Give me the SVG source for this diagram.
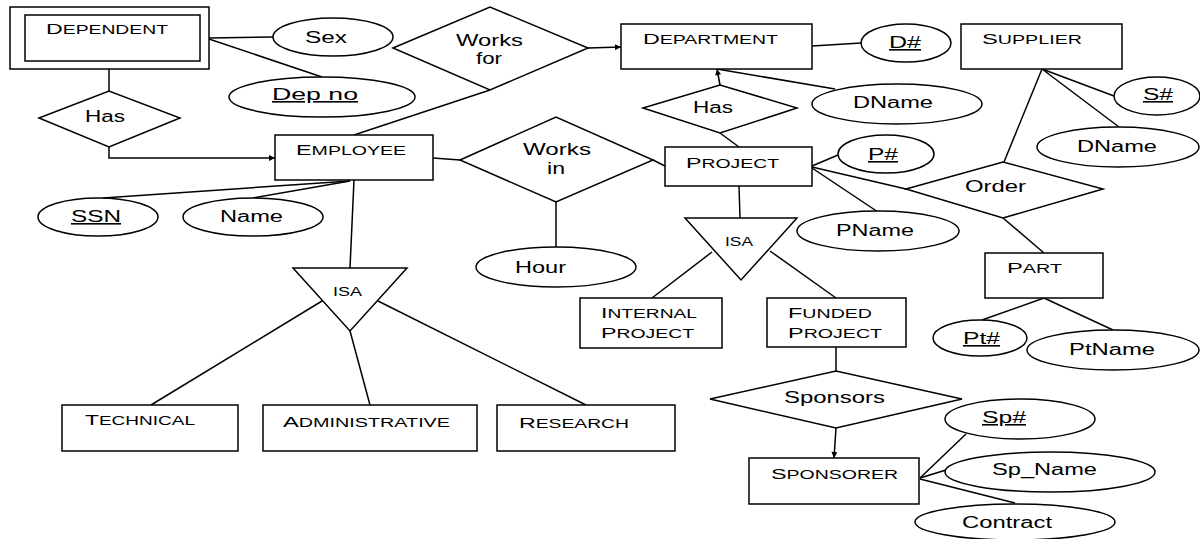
<svg xmlns="http://www.w3.org/2000/svg" width="1200" height="539" viewBox="0 0 1200 539">
  <defs>
    <marker id="arrow" viewBox="0 0 10 10" refX="10" refY="5" markerWidth="8" markerHeight="6" markerUnits="userSpaceOnUse" orient="auto">
      <path d="M0,0 L10,5 L0,10 z" fill="#000"/>
    </marker>
    <style>
      .shape { fill: #fff; stroke: #000; stroke-width: 1.5; }
      .edge { fill: none; stroke: #000; stroke-width: 1.5; }
      .arr { marker-end: url(#arrow); }
      text { font-family: "Liberation Sans", Arial, sans-serif; fill: #000; }
      .lbl { font-size: 16px; }
      .ent { font-size: 12.5px; }
      .big { font-size: 15px; }
      .isa { font-size: 13px; }
      .key { text-decoration: underline; }
    </style>
  </defs>
  <rect width="1200" height="539" fill="#fff"/>

  <!-- connectors -->
  <g id="connectors">
    <line class="edge" x1="209" y1="38" x2="273" y2="37"/>
    <line class="edge" x1="209" y1="39" x2="322" y2="77"/>
    <line class="edge" x1="109" y1="69" x2="109" y2="91"/>
    <polyline class="edge arr" points="109,147 109,158 275,158"/>
    <line class="edge" x1="354" y1="135" x2="490" y2="90"/>
    <line class="edge arr" x1="588" y1="48" x2="621" y2="47"/>
    <line class="edge" x1="812" y1="46" x2="861" y2="43"/>
    <line class="edge" x1="717" y1="69" x2="835" y2="89"/>
    <line class="edge arr" x1="720" y1="85" x2="717" y2="69"/>
    <line class="edge" x1="720" y1="133" x2="739" y2="147"/>
    <line class="edge" x1="433" y1="158" x2="460" y2="160"/>
    <line class="edge" x1="653" y1="160" x2="665" y2="166"/>
    <line class="edge" x1="556" y1="202" x2="556" y2="248"/>
    <line class="edge" x1="812" y1="166" x2="838" y2="155"/>
    <line class="edge" x1="812" y1="167" x2="906" y2="189"/>
    <line class="edge" x1="812" y1="168" x2="878" y2="212"/>
    <line class="edge" x1="739" y1="186" x2="740" y2="218"/>
    <line class="edge" x1="712" y1="252" x2="652" y2="298"/>
    <line class="edge" x1="770" y1="251" x2="836" y2="298"/>
    <line class="edge" x1="836" y1="347" x2="836" y2="371"/>
    <line class="edge arr" x1="836" y1="428" x2="834" y2="458"/>
    <line class="edge" x1="920" y1="478" x2="966" y2="434"/>
    <line class="edge" x1="920" y1="478" x2="946" y2="470"/>
    <line class="edge" x1="920" y1="479" x2="1015" y2="503"/>
    <line class="edge" x1="1042" y1="69" x2="1114" y2="96"/>
    <line class="edge" x1="1042" y1="69" x2="1119" y2="127"/>
    <line class="edge" x1="1042" y1="69" x2="1004" y2="162"/>
    <line class="edge" x1="1003" y1="218" x2="1044" y2="253"/>
    <line class="edge" x1="1044" y1="298" x2="982" y2="320"/>
    <line class="edge" x1="1044" y1="298" x2="1113" y2="330"/>
    <line class="edge" x1="350" y1="181" x2="103" y2="198"/>
    <line class="edge" x1="350" y1="181" x2="253" y2="198"/>
    <line class="edge" x1="354" y1="180" x2="350" y2="268"/>
    <line class="edge" x1="322" y1="301" x2="151" y2="405"/>
    <line class="edge" x1="350" y1="331" x2="370" y2="405"/>
    <line class="edge" x1="378" y1="301" x2="586" y2="405"/>
  </g>

  <!-- entities -->
  <g id="dependent">
    <rect class="shape" x="10" y="7" width="199" height="62"/>
    <rect class="shape" x="25" y="15" width="175" height="46"/>
    <text x="46" y="34" textLength="122" lengthAdjust="spacingAndGlyphs"><tspan class="big">D</tspan><tspan class="ent">EPENDENT</tspan></text>
  </g>
  <g id="employee">
    <rect class="shape" x="275" y="135" width="158" height="45"/>
    <text x="296" y="155" textLength="110" lengthAdjust="spacingAndGlyphs"><tspan class="big">E</tspan><tspan class="ent">MPLOYEE</tspan></text>
  </g>
  <g id="department">
    <rect class="shape" x="621" y="24" width="191" height="45"/>
    <text x="643" y="44" textLength="135" lengthAdjust="spacingAndGlyphs"><tspan class="big">D</tspan><tspan class="ent">EPARTMENT</tspan></text>
  </g>
  <g id="supplier">
    <rect class="shape" x="961" y="24" width="161" height="45"/>
    <text x="982" y="44" textLength="100" lengthAdjust="spacingAndGlyphs"><tspan class="big">S</tspan><tspan class="ent">UPPLIER</tspan></text>
  </g>
  <g id="project">
    <rect class="shape" x="665" y="147" width="147" height="39"/>
    <text x="686" y="168" textLength="93" lengthAdjust="spacingAndGlyphs"><tspan class="big">P</tspan><tspan class="ent">ROJECT</tspan></text>
  </g>
  <g id="part">
    <rect class="shape" x="985" y="253" width="118" height="45"/>
    <text x="1007" y="273" textLength="55" lengthAdjust="spacingAndGlyphs"><tspan class="big">P</tspan><tspan class="ent">ART</tspan></text>
  </g>
  <g id="internal-project">
    <rect class="shape" x="580" y="298" width="142" height="50"/>
    <text x="601" y="318" textLength="96" lengthAdjust="spacingAndGlyphs"><tspan class="big">I</tspan><tspan class="ent">NTERNAL</tspan></text>
    <text x="601" y="338" textLength="93" lengthAdjust="spacingAndGlyphs"><tspan class="big">P</tspan><tspan class="ent">ROJECT</tspan></text>
  </g>
  <g id="funded-project">
    <rect class="shape" x="767" y="298" width="139" height="49"/>
    <text x="788" y="318" textLength="84" lengthAdjust="spacingAndGlyphs"><tspan class="big">F</tspan><tspan class="ent">UNDED</tspan></text>
    <text x="788" y="338" textLength="94" lengthAdjust="spacingAndGlyphs"><tspan class="big">P</tspan><tspan class="ent">ROJECT</tspan></text>
  </g>
  <g id="sponsorer">
    <rect class="shape" x="749" y="458" width="170" height="46"/>
    <text x="771" y="479" textLength="127" lengthAdjust="spacingAndGlyphs"><tspan class="big">S</tspan><tspan class="ent">PONSORER</tspan></text>
  </g>
  <g id="technical">
    <rect class="shape" x="62" y="405" width="176" height="46"/>
    <text x="85" y="425" textLength="110" lengthAdjust="spacingAndGlyphs"><tspan class="big">T</tspan><tspan class="ent">ECHNICAL</tspan></text>
  </g>
  <g id="administrative">
    <rect class="shape" x="263" y="405" width="214" height="46"/>
    <text x="283" y="427" textLength="167" lengthAdjust="spacingAndGlyphs"><tspan class="big">A</tspan><tspan class="ent">DMINISTRATIVE</tspan></text>
  </g>
  <g id="research">
    <rect class="shape" x="497" y="405" width="178" height="46"/>
    <text x="519" y="428" textLength="110" lengthAdjust="spacingAndGlyphs"><tspan class="big">R</tspan><tspan class="ent">ESEARCH</tspan></text>
  </g>

  <!-- relationships -->
  <g id="has-dependent">
    <polygon class="shape" points="39,118 109,91 180,118 109,147"/>
    <text class="lbl" x="85" y="122" textLength="40" lengthAdjust="spacingAndGlyphs">Has</text>
  </g>
  <g id="works-for">
    <polygon class="shape" points="393,48 490,7 588,48 490,90"/>
    <text class="lbl" x="456" y="46" textLength="67" lengthAdjust="spacingAndGlyphs">Works</text>
    <text class="lbl" x="476" y="64" textLength="26" lengthAdjust="spacingAndGlyphs">for</text>
  </g>
  <g id="has-project">
    <polygon class="shape" points="643,108 720,85 797,108 720,133"/>
    <text class="lbl" x="693" y="113" textLength="40" lengthAdjust="spacingAndGlyphs">Has</text>
  </g>
  <g id="works-in">
    <polygon class="shape" points="460,160 556,117 653,160 556,202"/>
    <text class="lbl" x="523" y="155" textLength="68" lengthAdjust="spacingAndGlyphs">Works</text>
    <text class="lbl" x="547" y="174" textLength="18" lengthAdjust="spacingAndGlyphs">in</text>
  </g>
  <g id="order">
    <polygon class="shape" points="906,189 1003,162 1103,189 1003,218"/>
    <text class="lbl" x="965" y="192" textLength="61" lengthAdjust="spacingAndGlyphs">Order</text>
  </g>
  <g id="sponsors">
    <polygon class="shape" points="710,399 836,371 962,399 836,428"/>
    <text class="lbl" x="784" y="403" textLength="101" lengthAdjust="spacingAndGlyphs">Sponsors</text>
  </g>

  <!-- specialisations -->
  <g id="isa-employee">
    <polygon class="shape" points="293,268 407,268 350,331"/>
    <text class="isa" x="333" y="296" textLength="29" lengthAdjust="spacingAndGlyphs">ISA</text>
  </g>
  <g id="isa-project">
    <polygon class="shape" points="685,218 797,218 741,280"/>
    <text class="isa" x="725" y="246" textLength="28" lengthAdjust="spacingAndGlyphs">ISA</text>
  </g>

  <!-- attributes -->
  <g id="attr-sex">
    <ellipse class="shape" cx="333" cy="37" rx="60" ry="19"/>
    <text class="lbl" x="305" y="43" textLength="42" lengthAdjust="spacingAndGlyphs">Sex</text>
  </g>
  <g id="attr-dep-no">
    <ellipse class="shape" cx="322" cy="97" rx="93" ry="20"/>
    <text class="lbl key" x="272" y="100" textLength="86" lengthAdjust="spacingAndGlyphs">Dep  no</text>
  </g>
  <g id="attr-d-num">
    <ellipse class="shape" cx="906" cy="43" rx="45" ry="19"/>
    <text class="lbl key" x="889" y="48" textLength="32" lengthAdjust="spacingAndGlyphs">D#</text>
  </g>
  <g id="attr-dname-dept">
    <ellipse class="shape" cx="897" cy="104" rx="85" ry="20"/>
    <text class="lbl" x="853" y="108" textLength="80" lengthAdjust="spacingAndGlyphs">DName</text>
  </g>
  <g id="attr-s-num">
    <ellipse class="shape" cx="1157" cy="96" rx="43" ry="19"/>
    <text class="lbl key" x="1143" y="100" textLength="30" lengthAdjust="spacingAndGlyphs">S#</text>
  </g>
  <g id="attr-dname-supplier">
    <ellipse class="shape" cx="1118" cy="147" rx="81" ry="20"/>
    <text class="lbl" x="1077" y="152" textLength="80" lengthAdjust="spacingAndGlyphs">DName</text>
  </g>
  <g id="attr-p-num">
    <ellipse class="shape" cx="886" cy="154" rx="48" ry="19"/>
    <text class="lbl key" x="868" y="160" textLength="30" lengthAdjust="spacingAndGlyphs">P#</text>
  </g>
  <g id="attr-pname">
    <ellipse class="shape" cx="878" cy="231" rx="81" ry="20"/>
    <text class="lbl" x="836" y="236" textLength="78" lengthAdjust="spacingAndGlyphs">PName</text>
  </g>
  <g id="attr-hour">
    <ellipse class="shape" cx="556" cy="267" rx="80" ry="20"/>
    <text class="lbl" x="515" y="273" textLength="51" lengthAdjust="spacingAndGlyphs">Hour</text>
  </g>
  <g id="attr-ssn">
    <ellipse class="shape" cx="98" cy="217" rx="60" ry="19"/>
    <text class="lbl key" x="71" y="222" textLength="50" lengthAdjust="spacingAndGlyphs">SSN</text>
  </g>
  <g id="attr-name">
    <ellipse class="shape" cx="253" cy="217" rx="70" ry="19"/>
    <text class="lbl" x="220" y="222" textLength="63" lengthAdjust="spacingAndGlyphs">Name</text>
  </g>
  <g id="attr-pt-num">
    <ellipse class="shape" cx="980" cy="338" rx="47" ry="18"/>
    <text class="lbl key" x="963" y="344" textLength="37" lengthAdjust="spacingAndGlyphs">Pt#</text>
  </g>
  <g id="attr-ptname">
    <ellipse class="shape" cx="1113" cy="350" rx="86" ry="20"/>
    <text class="lbl" x="1069" y="355" textLength="86" lengthAdjust="spacingAndGlyphs">PtName</text>
  </g>
  <g id="attr-sp-num">
    <ellipse class="shape" cx="1020" cy="419" rx="75" ry="20"/>
    <text class="lbl key" x="982" y="423" textLength="44" lengthAdjust="spacingAndGlyphs">Sp#</text>
  </g>
  <g id="attr-sp-name">
    <ellipse class="shape" cx="1050" cy="472" rx="105" ry="20"/>
    <text class="lbl" x="992" y="475" textLength="105" lengthAdjust="spacingAndGlyphs">Sp_Name</text>
  </g>
  <g id="attr-contract">
    <ellipse class="shape" cx="1015" cy="522" rx="100" ry="18"/>
    <text class="lbl" x="962" y="528" textLength="90" lengthAdjust="spacingAndGlyphs">Contract</text>
  </g>
</svg>
